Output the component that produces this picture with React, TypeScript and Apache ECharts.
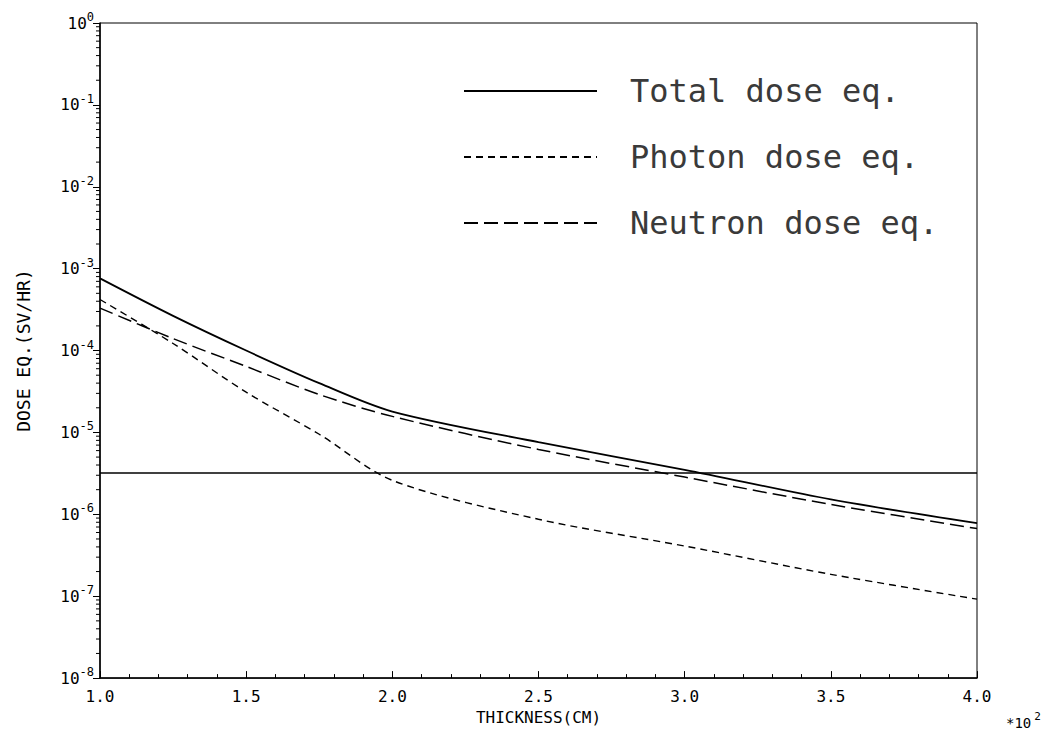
import React, { useEffect, useRef } from "react";
import * as echarts from "echarts";

const THICKNESS_CM = [100, 125, 150, 175, 200, 250, 300, 350, 400];
const TOTAL_DOSE = [7.6e-4, 2.65e-4, 1.0e-4, 4.0e-5, 1.8e-5, 7.6e-6, 3.5e-6, 1.52e-6, 7.8e-7];
const PHOTON_DOSE = [4.2e-4, 1.22e-4, 3.1e-5, 9.5e-6, 2.6e-6, 8.7e-7, 4.1e-7, 1.85e-7, 9.2e-8];
const NEUTRON_DOSE = [3.3e-4, 1.4e-4, 6.4e-5, 2.9e-5, 1.57e-5, 6.2e-6, 2.85e-6, 1.32e-6, 6.7e-7];
const DOSE_LIMIT = 3.2e-6;
const SERIES_NAMES = ["Total dose eq.", "Photon dose eq.", "Neutron dose eq."];
const DECADE_EXPONENTS = [-8, -7, -6, -5, -4, -3, -2, -1];
const MINOR_MULTIPLIERS = [2, 3, 4, 5, 6, 7, 8, 9];

const FONT = "DejaVu Sans Mono";

export default function App() {
  const ref = useRef<HTMLDivElement>(null);

  useEffect(() => {
    if (!ref.current) return;
    const chart = echarts.init(ref.current, null, { renderer: "svg" });

    const pair = (ys: number[]) => THICKNESS_CM.map((x, i) => [x, ys[i]]);
    const xFirst = THICKNESS_CM[0];
    const xLast = THICKNESS_CM[THICKNESS_CM.length - 1];
    const minorTicks: number[][] = [];
    DECADE_EXPONENTS.forEach((e) =>
      MINOR_MULTIPLIERS.forEach((m) => minorTicks.push([xFirst, m * Math.pow(10, e)]))
    );

    chart.setOption({
      animation: false,
      backgroundColor: "#fff",
      grid: {
        left: 100,
        right: 66,
        top: 23,
        bottom: 51,
        show: true,
        borderColor: "#000",
        borderWidth: 1,
        backgroundColor: "transparent",
      },
      legend: {
        orient: "vertical",
        left: 458,
        top: 70,
        itemWidth: 133,
        itemHeight: 12,
        itemGap: 34,
        data: SERIES_NAMES,
        selectedMode: false,
        itemStyle: { opacity: 0, borderWidth: 0 },
        textStyle: {
          fontFamily: FONT,
          fontSize: 32,
          color: "#3a3a3a",
          padding: [0, 0, 0, 28],
        },
      },
      xAxis: {
        type: "value",
        min: 100,
        max: 400,
        interval: 50,
        name: "THICKNESS(CM)",
        nameLocation: "middle",
        nameGap: 30,
        nameTextStyle: { fontFamily: FONT, fontSize: 16, color: "#000" },
        axisLine: { show: true, lineStyle: { color: "#000", width: 1.5 } },
        axisTick: { show: true, inside: true, length: 7, lineStyle: { color: "#000" } },
        minorTick: { show: true, splitNumber: 5, length: 4, lineStyle: { color: "#000" } },
        splitLine: { show: false },
        axisLabel: {
          margin: 10,
          fontFamily: FONT,
          fontSize: 16,
          color: "#000",
          formatter: (v: number) => (v / 100).toFixed(1),
        },
      },
      yAxis: {
        type: "log",
        logBase: 10,
        min: 1e-8,
        max: 1,
        interval: 1,
        name: "DOSE EQ.(SV/HR)",
        nameLocation: "middle",
        nameGap: 68,
        nameTextStyle: { fontFamily: FONT, fontSize: 18, color: "#000" },
        axisLine: { show: true, lineStyle: { color: "#000", width: 1.5 } },
        axisTick: { show: true, inside: false, length: 7, lineStyle: { color: "#000" } },
        splitLine: { show: false },
        axisLabel: {
          margin: 6,
          formatter: (v: number) => `{b|10}{s|${Math.round(Math.log10(v))}}`,
          rich: {
            b: { fontFamily: FONT, fontSize: 16, color: "#000" },
            s: { fontFamily: FONT, fontSize: 12, color: "#000", padding: [0, 0, 12, 0] },
          },
        },
      },
      series: [
        {
          name: SERIES_NAMES[0],
          type: "line",
          data: pair(TOTAL_DOSE),
          symbol: "none",
          smooth: 0.3,
          lineStyle: { color: "#000", width: 1.8, type: "solid" },
          itemStyle: { color: "#000" },
        },
        {
          name: SERIES_NAMES[1],
          type: "line",
          data: pair(PHOTON_DOSE),
          symbol: "none",
          smooth: 0.3,
          lineStyle: { color: "#000", width: 1.4, type: [7, 5] },
          itemStyle: { color: "#000" },
        },
        {
          name: SERIES_NAMES[2],
          type: "line",
          data: pair(NEUTRON_DOSE),
          symbol: "none",
          smooth: 0.3,
          lineStyle: { color: "#000", width: 1.5, type: [14, 6] },
          itemStyle: { color: "#000" },
        },
        {
          name: "limit",
          type: "line",
          silent: true,
          data: [
            [xFirst, DOSE_LIMIT],
            [xLast, DOSE_LIMIT],
          ],
          symbol: "none",
          lineStyle: { color: "#000", width: 1.5, type: "solid" },
        },
        {
          type: "custom",
          silent: true,
          data: minorTicks,
          encode: { x: 0, y: 1 },
          renderItem: (_p: any, api: any) => {
            const pt = api.coord([api.value(0), api.value(1)]);
            return {
              type: "line",
              shape: { x1: pt[0] - 4, y1: pt[1], x2: pt[0], y2: pt[1] },
              style: { stroke: "#000", lineWidth: 1 },
            };
          },
        },
      ],
      graphic: [
        {
          type: "text",
          left: 1006,
          top: 711,
          style: {
            text: "{a|*10}{b|2}",
            rich: {
              a: { fontFamily: FONT, fontSize: 14, fill: "#000", color: "#000" },
              b: { fontFamily: FONT, fontSize: 11, fill: "#000", color: "#000", padding: [0, 0, 12, 3] },
            },
          },
        },
      ],
    });

    return () => chart.dispose();
  }, []);

  return (
    <div
      ref={ref}
      style={{ position: "fixed", left: 0, top: 0, width: 1043, height: 730, background: "#fff" }}
    />
  );
}
